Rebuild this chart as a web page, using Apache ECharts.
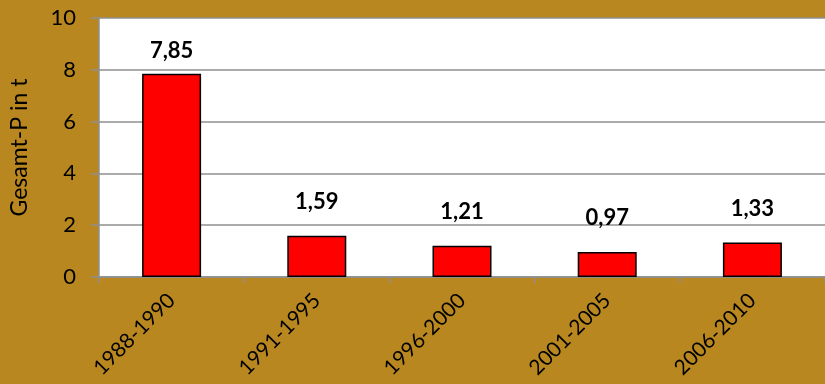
<!DOCTYPE html>
<html><head><meta charset="utf-8">
<script src="https://cdn.jsdelivr.net/npm/echarts@6/dist/echarts.min.js"></script>
<style>html,body{margin:0;padding:0;background:#B9871F}#c{width:825px;height:384px}</style>
</head><body><div id="c"></div>
<script>
const categories = ['1988-1990','1991-1995','1996-2000','2001-2005','2006-2010'];
const values = [7.85, 1.59, 1.21, 0.97, 1.33];
const yTicks = [0, 2, 4, 6, 8, 10];
const yAxisName = 'Gesamt-P in t';

const FONT = 'Lato';
const chart = echarts.init(document.getElementById('c'), null, {renderer: 'canvas'});
const fmt = v => v.toFixed(2).replace('.', ',');
chart.setOption({
  backgroundColor: '#B9871F',
  animation: false,
  grid: {left: 97, top: 18, width: 738, bottom: 107, show: true, backgroundColor: '#ffffff', borderWidth: 0, containLabel: false},
  xAxis: {
    type: 'category', data: categories,
    axisLine: {show: true, lineStyle: {color: '#8f8f8f', width: 1.5}},
    axisTick: {show: true, length: 6, lineStyle: {color: '#8f8f8f', width: 1.5}},
    axisLabel: {rotate: 45, margin: 20, color: '#000', fontFamily: FONT, fontSize: 21}
  },
  yAxis: {
    type: 'value', min: yTicks[0], max: yTicks[yTicks.length - 1], interval: 2,
    name: yAxisName, nameLocation: 'middle', nameGap: 68, nameRotate: 90,
    nameTextStyle: {color: '#000', fontFamily: FONT, fontSize: 23},
    axisLine: {show: true, lineStyle: {color: '#8f8f8f', width: 1.5}},
    axisTick: {show: true, length: 8, lineStyle: {color: '#8f8f8f', width: 1.5}},
    axisLabel: {margin: 23, color: '#000', fontFamily: FONT, fontSize: 22},
    splitLine: {show: true, lineStyle: {color: '#8f8f8f', width: 1.5}}
  },
  series: [{
    type: 'bar', barWidth: 59,
    data: values.map((v, i) => ({value: v, label: {distance: i === 0 ? 12 : 23}})),
    itemStyle: {color: '#FF0000', borderColor: '#000', borderWidth: 1.5},
    label: {show: true, position: 'top', formatter: p => fmt(p.value), color: '#000', fontFamily: FONT, fontWeight: 'bold', fontSize: 22}
  }]
});
</script></body></html>
